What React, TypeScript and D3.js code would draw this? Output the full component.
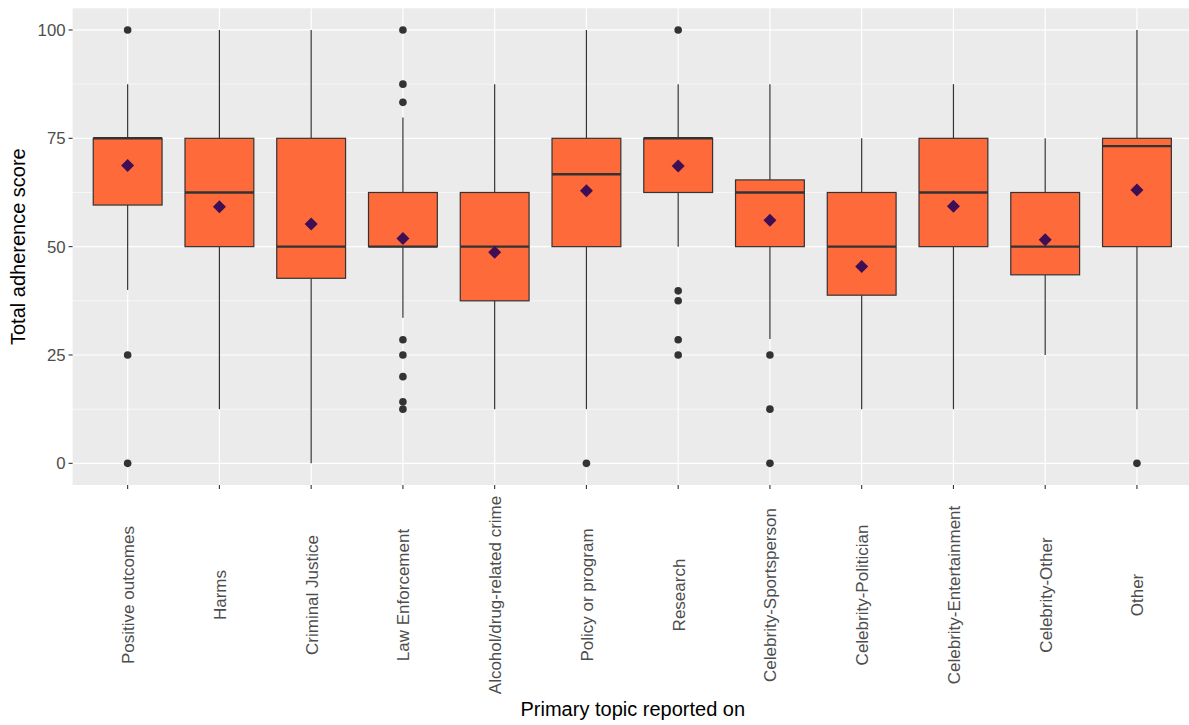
import React from "react";
import * as d3 from "d3";

const categories = [
  "Positive outcomes", "Harms", "Criminal Justice", "Law Enforcement",
  "Alcohol/drug-related crime", "Policy or program", "Research",
  "Celebrity-Sportsperson", "Celebrity-Politician", "Celebrity-Entertainment",
  "Celebrity-Other", "Other",
];
const lowerWhisker = [40, 12.5, 0, 33.6, 12.5, 12.5, 50, 28.7, 12.5, 12.5, 25, 12.5];
const q1 = [59.6, 50, 42.7, 50, 37.5, 50, 62.5, 50, 38.8, 50, 43.5, 50];
const medians = [75, 62.5, 50, 50, 50, 66.7, 75, 62.5, 50, 62.5, 50, 73.2];
const q3 = [75, 75, 75, 62.5, 62.5, 75, 75, 65.4, 62.5, 75, 62.5, 75];
const upperWhisker = [87.5, 100, 100, 79.8, 87.5, 100, 87.5, 87.5, 75, 87.5, 75, 100];
const means = [68.7, 59.2, 55.2, 51.9, 48.7, 62.9, 68.6, 56.1, 45.4, 59.3, 51.6, 63.1];
const outliers: number[][] = [
  [100, 25, 0],
  [],
  [],
  [100, 87.5, 83.3, 28.5, 25, 20, 14.2, 12.5],
  [],
  [0],
  [100, 39.8, 37.5, 28.5, 25],
  [25, 12.5, 0],
  [],
  [],
  [],
  [0],
];
const yTicks = [0, 25, 50, 75, 100];
const yMinor = [12.5, 37.5, 62.5, 87.5];

export default function App() {
  const W = 1189, H = 725;
  const left = 72.6, right = 1192, top = 8.3, bottom = 485;
  const x = d3.scalePoint<string>().domain(categories).range([left, right]).padding(0.6);
  const y = d3.scaleLinear().domain([-5, 105]).range([bottom, top]);
  const step = x.step();
  const bw = step * 0.75;
  const font = "'Liberation Sans', Arial, sans-serif";
  const boxFill = "#FE6A3A";
  const ink = "#333333";

  return (
    <svg width={W} height={H} style={{ position: "absolute", left: 0, top: 0, background: "#fff" }}>
      <rect x={left} y={top} width={right - left} height={bottom - top} fill="#EBEBEB" />
      {yMinor.map((v) => (
        <line key={"mn" + v} x1={left} x2={right} y1={y(v)} y2={y(v)} stroke="#fff" strokeWidth={0.6} />
      ))}
      {yTicks.map((v) => (
        <line key={"mj" + v} x1={left} x2={right} y1={y(v)} y2={y(v)} stroke="#fff" strokeWidth={1.2} />
      ))}
      {categories.map((c) => (
        <line key={"vg" + c} x1={x(c)} x2={x(c)} y1={top} y2={bottom} stroke="#fff" strokeWidth={1.2} />
      ))}

      {categories.map((c, i) => {
        const cx = x(c)!;
        return (
          <g key={"b" + c}>
            <line x1={cx} x2={cx} y1={y(q3[i])} y2={y(upperWhisker[i])} stroke={ink} strokeWidth={1.2} />
            <line x1={cx} x2={cx} y1={y(q1[i])} y2={y(lowerWhisker[i])} stroke={ink} strokeWidth={1.2} />
            <rect x={cx - bw / 2} y={y(q3[i])} width={bw} height={y(q1[i]) - y(q3[i])}
              fill={boxFill} stroke={ink} strokeWidth={1.2} />
            <line x1={cx - bw / 2} x2={cx + bw / 2} y1={y(medians[i])} y2={y(medians[i])}
              stroke={ink} strokeWidth={2.4} />
            {outliers[i].map((o, j) => (
              <circle key={j} cx={cx} cy={y(o)} r={3.8} fill={ink} />
            ))}
            <path d={`M${cx},${y(means[i]) - 6.5} L${cx + 6.5},${y(means[i])} L${cx},${y(means[i]) + 6.5} L${cx - 6.5},${y(means[i])} Z`}
              fill="#3F0F56" />
          </g>
        );
      })}

      {yTicks.map((v) => (
        <g key={"yt" + v}>
          <line x1={left - 4} x2={left} y1={y(v)} y2={y(v)} stroke={ink} strokeWidth={1.1} />
          <text x={left - 7} y={y(v)} dy="0.35em" textAnchor="end" fontFamily={font}
            fontSize={16.8} fill="#4D4D4D">{v}</text>
        </g>
      ))}
      {categories.map((c) => (
        <g key={"xt" + c}>
          <line x1={x(c)} x2={x(c)} y1={bottom} y2={bottom + 4} stroke={ink} strokeWidth={1.1} />
          <text transform={`translate(${x(c)! + 6.5},595) rotate(-90)`} textAnchor="middle"
            fontFamily={font} fontSize={17} fill="#4D4D4D">{c}</text>
        </g>
      ))}
      <text x={(left + 1189) / 2 + 2} y={716} textAnchor="middle" fontFamily={font}
        fontSize={20} fill="#000">Primary topic reported on</text>
      <text transform={`translate(25,${(top + bottom) / 2}) rotate(-90)`} textAnchor="middle"
        fontFamily={font} fontSize={20} fill="#000">Total adherence score</text>
    </svg>
  );
}
